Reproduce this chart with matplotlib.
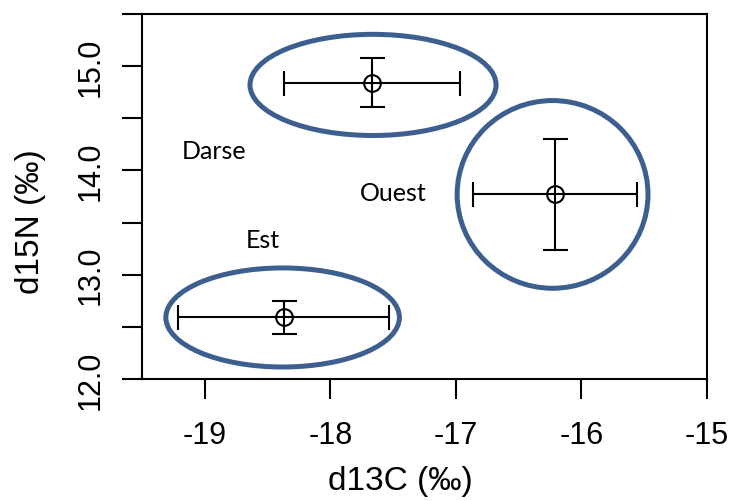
import matplotlib.pyplot as plt
from matplotlib.patches import Ellipse
import numpy as np

# site means and spread (d13C, d15N)
sites = ["Darse", "Ouest", "Est"]
d13c = [-17.67, -16.21, -18.37]
d13c_err = [0.70, 0.65, 0.84]
d15n = [14.84, 13.77, 12.59]
d15n_err = [0.235, 0.53, 0.155]

# hand-drawn group ellipses: centre x, centre y, width, height (data units)
ell_x = [-17.66, -16.23, -18.38]
ell_y = [14.82, 13.77, 12.59]
ell_w = [1.96, 1.52, 1.86]
ell_h = [0.97, 1.80, 0.95]

# label positions (centre x, baseline y)
lab_x = [-18.93, -17.50, -18.54]
lab_y = [14.12, 13.72, 13.27]

xticks = [-19, -18, -17, -16, -15]
yticks = [12.0, 12.5, 13.0, 13.5, 14.0, 14.5, 15.0, 15.5]
ytick_labels = ["12.0", "", "13.0", "", "14.0", "", "15.0", ""]

plt.rcParams['font.family'] = ['Liberation Sans', 'DejaVu Sans']

fig = plt.figure(figsize=(7.32, 5.02), dpi=100)
ax = fig.add_axes([142/732, 1 - 380/502, 565/732, 365/502])

ax.errorbar(d13c, d15n, xerr=d13c_err, yerr=d15n_err, fmt='o', mfc='none',
            mec='black', color='black', ms=12, mew=1.5, elinewidth=1.5,
            capsize=9, capthick=1.5, zorder=3)

for x, y, w, h in zip(ell_x, ell_y, ell_w, ell_h):
    ax.add_patch(Ellipse((x, y), w, h, fill=False, edgecolor='#3d5f8f',
                         lw=3.6, clip_on=False, zorder=2))

for name, x, y in zip(sites, lab_x, lab_y):
    ax.text(x, y, name, fontsize=18, family=['Lato', 'DejaVu Sans'],
            ha='center', va='baseline')

ax.set_xlim(-19.5, -15)
ax.set_ylim(12, 15.5)
ax.set_xticks(xticks)
ax.set_xticklabels([str(t) for t in xticks])
ax.set_yticks(yticks)
ax.set_yticklabels(ytick_labels, rotation=90, va='center')

for s in ax.spines.values():
    s.set_linewidth(1.5)
ax.tick_params(axis='both', direction='out', length=14.5, width=1.5,
               labelsize=22)
ax.tick_params(axis='x', pad=15)
ax.tick_params(axis='y', pad=12)

ax.set_xlabel("d13C (‰)", fontsize=24)
ax.set_ylabel("d15N (‰)", fontsize=24)
ax.xaxis.set_label_coords(0.458, -0.235)
ax.yaxis.set_label_coords(-0.17, 0.433)

fig.savefig("out.png", dpi=100)
